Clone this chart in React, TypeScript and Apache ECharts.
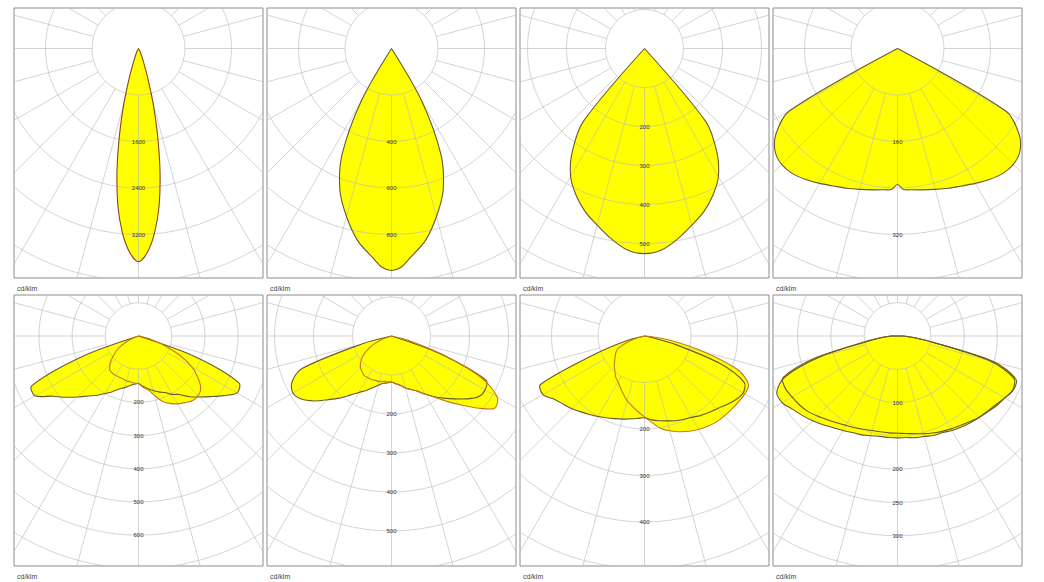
import { useEffect, useRef } from "react";
import * as echarts from "echarts";

// ---------- DATA (cd/klm, gamma angle in degrees from nadir) ----------
// Top row: rotationally symmetric half profiles (0..max angle)
const p1Angles = [0, 2.5, 5, 7.5, 10, 12.5, 15, 17.5, 20, 25, 30, 35];
const p1Values = [3670, 3510, 3180, 2720, 2130, 1500, 960, 520, 260, 90, 30, 0];
const p1Rings = [800, 1600, 2400, 3200, 4000, 4800, 5600];
const p1Labels = [1600, 2400, 3200];

const p2Angles = [0, 2.5, 5, 10, 15, 20, 25, 30, 35];
const p2Values = [955, 942, 905, 839, 748, 649, 503, 258, 0];
const p2Rings = [200, 400, 600, 800, 1000, 1200, 1400];
const p2Labels = [400, 600, 800];

const p3Angles = [0, 5, 10, 15, 20, 25, 30, 35, 40, 45];
const p3Values = [526, 518, 495, 469, 445, 415, 379, 323, 244, 0];
const p3Rings = [100, 200, 300, 400, 500, 600, 700, 800];
const p3Labels = [200, 300, 400, 500];

const p4Angles = [0, 2.5, 5, 10, 15, 20, 25, 30, 35, 40, 45, 50, 55, 60, 65];
const p4Values = [234, 243, 244, 247, 251, 256, 261, 268, 275, 281, 282, 275, 255, 215, 0];
const p4Rings = [80, 160, 240, 320, 400, 480, 560];
const p4Labels = [160, 320];

// Bottom row: full profiles from -90 to 90 degrees (two C-planes each)
const bAngles = [-90, -85, -80, -75, -70, -65, -60, -55, -50, -45, -40, -35, -30, -25, -20, -15, -10, -5, 0,
  5, 10, 15, 20, 25, 30, 35, 40, 45, 50, 55, 60, 65, 70, 75, 80, 85, 90];

const p5A = [0, 0, 0, 0, 180, 355, 360, 316, 287, 260, 236, 218, 200, 185, 170, 161, 152, 146, 143,
  152, 161, 170, 179, 188, 203, 215, 239, 260, 284, 313, 343, 334, 180, 0, 0, 0, 0];
const p5B = [0, 0, 0, 0, 15, 36, 63, 84, 104, 122, 134, 137, 137, 137, 137, 140, 140, 143, 143,
  155, 164, 185, 209, 224, 236, 245, 254, 254, 245, 218, 185, 137, 81, 36, 12, 0, 0];
const p5Rings = [100, 200, 300, 400, 500, 600, 700, 800, 900];
const p5Labels = [200, 300, 400, 500, 600];

const p6A = [0, 0, 0, 77, 244, 282, 292, 282, 259, 231, 208, 185, 167, 154, 141, 131, 123, 121, 118,
  123, 128, 138, 146, 156, 172, 190, 208, 228, 251, 272, 277, 267, 128, 0, 0, 0, 0];
const p6B = [0, 0, 0, 0, 26, 51, 72, 90, 103, 113, 118, 123, 123, 123, 121, 121, 118, 118, 118,
  123, 128, 138, 146, 156, 172, 192, 218, 249, 287, 323, 313, 256, 141, 51, 0, 0, 0];
const p6Rings = [100, 200, 300, 400, 500, 600, 700, 800];
const p6Labels = [200, 300, 400, 500];

const p7A = [0, 0, 0, 43, 112, 247, 252, 237, 228, 221, 213, 206, 200, 194, 189, 185, 181, 178, 176,
  181, 185, 189, 194, 198, 202, 209, 215, 221, 230, 239, 245, 237, 172, 65, 11, 0, 0];
const p7B = [0, 0, 0, 13, 39, 62, 71, 77, 84, 92, 99, 108, 114, 123, 133, 144, 153, 163, 174,
  187, 202, 211, 219, 226, 232, 237, 241, 243, 245, 247, 249, 247, 215, 133, 60, 13, 0];
const p7Rings = [100, 200, 300, 400, 500, 600, 700];
const p7Labels = [200, 300, 400];

const p8A = [10, 22, 45, 120, 180, 200, 200, 192, 186, 180, 174, 168, 164, 160, 158, 155, 153, 153, 153,
  153, 155, 156, 159, 160, 164, 167, 170, 173, 176, 180, 186, 192, 189, 150, 54, 22, 8];
const p8B = [10, 22, 50, 128, 183, 186, 183, 180, 176, 170, 164, 159, 155, 152, 149, 147, 146, 146, 146,
  147, 149, 152, 155, 158, 161, 164, 168, 173, 177, 182, 186, 191, 186, 143, 53, 22, 8];
const p8Rings = [50, 100, 150, 200, 250, 300, 350, 400, 450];
const p8Labels = [100, 200, 250, 300];

const unitLabel = "cd/klm";

// ---------- LAYOUT / STYLE ----------
const COLS = [14, 267, 520, 773];
const BOX_W = 249;
const ROWS = [
  { top: 8, height: 270, cy: 40.5 },
  { top: 295, height: 271, cy: 41 },
];
const RING_PX = [46.5, 46.5, 39, 46.5, 33.2, 39, 46.5, 33.3];
const YELLOW = "#ffff00";
const GRID_LINE = "rgba(185,185,185,0.62)";
const DARK = "#6a5a2a";
const ORANGE = "#c47a22";
const RED_BROWN = "#8e4226";
const SMOOTH = 0.3;
const DEG = Math.PI / 180;

function mirror(angles: number[], values: number[]) {
  const a: number[] = [];
  const v: number[] = [];
  for (let i = angles.length - 1; i > 0; i--) {
    a.push(-angles[i]);
    v.push(values[i]);
  }
  for (let i = 0; i < angles.length; i++) {
    a.push(angles[i]);
    v.push(values[i]);
  }
  return { angles: a, values: v };
}

type Curve = { angles: number[]; values: number[]; stroke: string };
type Panel = { rings: number[]; labels: number[]; curves: Curve[] };

const panels: Panel[] = [
  { rings: p1Rings, labels: p1Labels, curves: [{ ...mirror(p1Angles, p1Values), stroke: RED_BROWN }] },
  { rings: p2Rings, labels: p2Labels, curves: [{ ...mirror(p2Angles, p2Values), stroke: DARK }] },
  { rings: p3Rings, labels: p3Labels, curves: [{ ...mirror(p3Angles, p3Values), stroke: DARK }] },
  { rings: p4Rings, labels: p4Labels, curves: [{ ...mirror(p4Angles, p4Values), stroke: DARK }] },
  { rings: p5Rings, labels: p5Labels, curves: [{ angles: bAngles, values: p5A, stroke: DARK }, { angles: bAngles, values: p5B, stroke: ORANGE }] },
  { rings: p6Rings, labels: p6Labels, curves: [{ angles: bAngles, values: p6A, stroke: DARK }, { angles: bAngles, values: p6B, stroke: ORANGE }] },
  { rings: p7Rings, labels: p7Labels, curves: [{ angles: bAngles, values: p7A, stroke: DARK }, { angles: bAngles, values: p7B, stroke: ORANGE }] },
  { rings: p8Rings, labels: p8Labels, curves: [{ angles: bAngles, values: p8A, stroke: DARK }, { angles: bAngles, values: p8B, stroke: DARK }] },
];

// project a photometric curve through the axes and drop repeated pixels
function pixelsOf(api: any, c: Curve) {
  const pts: number[][] = [];
  c.angles.forEach((a, j) => {
    const v = c.values[j];
    const p = api.coord([v * Math.sin(a * DEG), -v * Math.cos(a * DEG)]);
    const last = pts[pts.length - 1];
    if (!last || Math.abs(last[0] - p[0]) > 0.05 || Math.abs(last[1] - p[1]) > 0.05) pts.push(p);
  });
  return pts;
}

function buildOption() {
  const grid: any[] = [];
  const xAxis: any[] = [];
  const yAxis: any[] = [];
  const series: any[] = [];
  const graphic: any[] = [];

  panels.forEach((p, i) => {
    const col = i % 4;
    const row = ROWS[Math.floor(i / 4)];
    const k = p.rings[0] / RING_PX[i];
    grid.push({
      left: COLS[col], top: row.top, width: BOX_W, height: row.height,
      show: true, borderColor: "#8c8c8c", borderWidth: 1, backgroundColor: "#ffffff",
    });
    xAxis.push({ type: "value", gridIndex: i, min: (-BOX_W / 2) * k, max: (BOX_W / 2) * k, show: false, splitLine: { show: false } });
    yAxis.push({ type: "value", gridIndex: i, min: -(row.height - row.cy) * k, max: row.cy * k, show: false, splitLine: { show: false } });

    const dummy = p.curves.map(() => [0, 0]);

    // fills
    series.push({
      type: "custom", xAxisIndex: i, yAxisIndex: i, clip: true, z: 1, silent: true,
      data: dummy,
      renderItem: (params: any, api: any) => ({
        type: "polyline",
        shape: { points: pixelsOf(api, p.curves[params.dataIndex]), smooth: SMOOTH },
        style: { fill: YELLOW, stroke: "none" },
      }),
    });

    // polar grid on top of fills
    series.push({
      type: "custom", xAxisIndex: i, yAxisIndex: i, clip: true, z: 2, silent: true,
      data: [[0, 0]],
      renderItem: (params: any, api: any) => {
        const cs = params.coordSys;
        const c0 = api.coord([0, 0]);
        const children: any[] = [];
        p.rings.forEach((r) => {
          const rp = api.size([r, 0])[0];
          children.push({ type: "circle", shape: { cx: c0[0], cy: c0[1], r: rp }, style: { fill: "none", stroke: GRID_LINE, lineWidth: 1 } });
        });
        const r0 = p.rings[0];
        const r1 = p.rings[p.rings.length - 1] * 1.3;
        for (let a = 0; a < 360; a += 15) {
          const s = Math.sin(a * DEG);
          const c = Math.cos(a * DEG);
          const q0 = api.coord([r0 * s, -r0 * c]);
          const q1 = api.coord([r1 * s, -r1 * c]);
          children.push({ type: "line", shape: { x1: q0[0], y1: q0[1], x2: q1[0], y2: q1[1] }, style: { stroke: GRID_LINE, lineWidth: 1 } });
        }
        return {
          type: "group", children,
          clipPath: { type: "rect", shape: { x: cs.x, y: cs.y, width: cs.width, height: cs.height } },
        };
      },
    });

    // outlines
    series.push({
      type: "custom", xAxisIndex: i, yAxisIndex: i, clip: true, z: 3, silent: true,
      data: dummy,
      renderItem: (params: any, api: any) => {
        const c = p.curves[params.dataIndex];
        const pts = pixelsOf(api, c);
        const first = pts[0];
        const last = pts[pts.length - 1];
        const children: any[] = [
          { type: "polyline", shape: { points: pts, smooth: SMOOTH }, style: { fill: "none", stroke: c.stroke, lineWidth: 1.1 } },
        ];
        if (Math.abs(first[0] - last[0]) > 0.05 || Math.abs(first[1] - last[1]) > 0.05) {
          children.push({ type: "line", shape: { x1: last[0], y1: last[1], x2: first[0], y2: first[1] }, style: { stroke: c.stroke, lineWidth: 1.1 } });
        }
        return { type: "group", children };
      },
    });

    // ring labels
    series.push({
      type: "custom", xAxisIndex: i, yAxisIndex: i, clip: true, z: 4, silent: true,
      data: p.labels.map((v) => [0, -v]),
      renderItem: (params: any, api: any) => {
        const v = p.labels[params.dataIndex];
        const pt = api.coord([0, -v]);
        return {
          type: "text", x: pt[0], y: pt[1],
          style: { text: String(v), fill: "#333333", fontSize: 6, fontFamily: "Liberation Sans, Arial, sans-serif", align: "center", verticalAlign: "middle" },
        };
      },
    });

    graphic.push({
      type: "text", x: COLS[col] + 3, y: row.top + row.height + 10,
      style: { text: unitLabel, fill: "#444444", fontSize: 7, fontFamily: "Liberation Sans, Arial, sans-serif", verticalAlign: "middle" },
    });
  });

  return { animation: false, backgroundColor: "#ffffff", grid, xAxis, yAxis, series, graphic };
}

export default function App() {
  const ref = useRef<HTMLDivElement>(null);
  useEffect(() => {
    if (!ref.current) return;
    const chart = echarts.init(ref.current, undefined, { renderer: "svg" });
    chart.setOption(buildOption() as any);
    return () => chart.dispose();
  }, []);
  return <div ref={ref} style={{ position: "fixed", left: 0, top: 0, width: 1044, height: 582, background: "#fff" }} />;
}
